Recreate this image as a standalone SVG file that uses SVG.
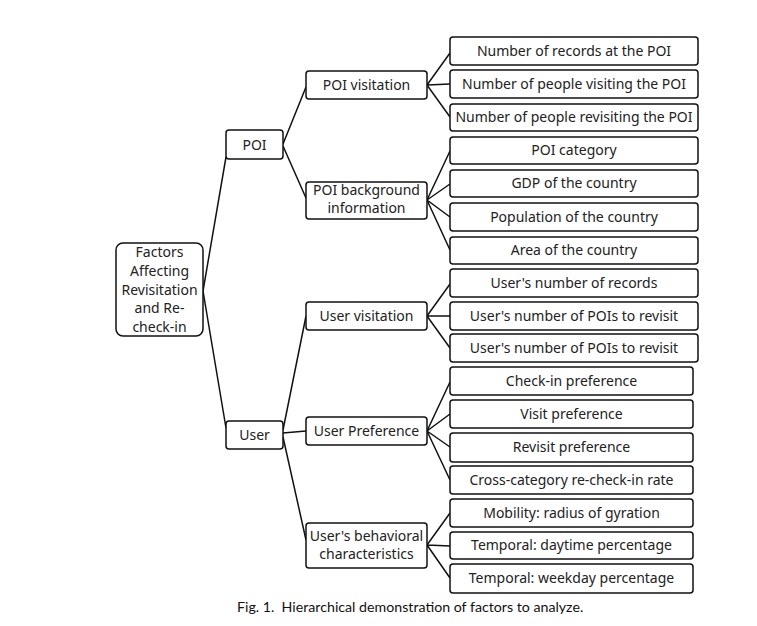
<svg xmlns="http://www.w3.org/2000/svg" width="757" height="626" viewBox="0 0 757 626">
<style>
.b{fill:#fff;stroke:#111;stroke-width:1.5}
.t{font-family:"Noto Sans","DejaVu Sans",sans-serif;font-size:14px;fill:#222;text-anchor:middle}
.c{fill:none;stroke:#111;stroke-width:1.5}
.cap{font-family:Lato,"Open Sans",sans-serif;font-size:14.2px;fill:#111;white-space:pre}
</style>
<rect width="757" height="626" fill="#fff"/>
<g id="connectors">
<path class="c" d="M203,291L226,157M203,291L226,428"/>
<path class="c" d="M283,144L306,87M283,146L306,198"/>
<path class="c" d="M283,430L306,316M283,433L306,431M283,437L306,540"/>
<path class="c" d="M427,85L450,53M427,85L450,84M427,85L450,117"/>
<path class="c" d="M427,200L450,151M427,200L450,184M427,200L450,217M427,200L450,250"/>
<path class="c" d="M427,316L450,284M427,316L450,316M427,316L450,348"/>
<path class="c" d="M427,431L450,382M427,431L450,414M427,431L450,447M427,431L450,480"/>
<path class="c" d="M427,545L450,513M427,545L450,546M427,545L450,578"/>
</g>
<g id="root"><rect class="b" x="116" y="243" width="87" height="93" rx="7"/>
<text class="t" x="159.5" y="257">Factors</text><text class="t" x="159.5" y="276">Affecting</text><text class="t" x="159.5" y="295">Revisitation</text><text class="t" x="159.5" y="313">and Re-</text><text class="t" x="159.5" y="332">check-in</text></g>
<g id="poi"><rect class="b" x="226" y="130" width="57" height="29" rx="3"/><text class="t" x="254.5" y="150">POI</text></g>
<g id="user"><rect class="b" x="226" y="421" width="57" height="28" rx="3"/><text class="t" x="254.5" y="440">User</text></g>
<g id="poi-visitation"><rect class="b" x="306" y="71" width="121" height="28" rx="3"/><text class="t" x="366.5" y="90">POI visitation</text></g>
<g id="poi-background"><rect class="b" x="306" y="182" width="121" height="37" rx="3"/><text class="t" x="366.5" y="194.5">POI background</text><text class="t" x="366.5" y="212.5">information</text></g>
<g id="user-visitation"><rect class="b" x="306" y="302" width="121" height="28" rx="3"/><text class="t" x="366.5" y="321">User visitation</text></g>
<g id="user-preference"><rect class="b" x="306" y="417" width="121" height="28" rx="3"/><text class="t" x="366.5" y="436">User Preference</text></g>
<g id="user-behavioral"><rect class="b" x="306" y="523" width="121" height="45" rx="3"/><text class="t" x="366.5" y="541">User's behavioral</text><text class="t" x="366.5" y="559">characteristics</text></g>
<g id="l1"><rect class="b" x="450" y="37" width="248" height="28" rx="3"/><text class="t" x="574" y="56">Number of records at the POI</text></g>
<g id="l2"><rect class="b" x="450" y="70" width="248" height="28" rx="3"/><text class="t" x="574" y="89">Number of people visiting the POI</text></g>
<g id="l3"><rect class="b" x="450" y="104" width="248" height="27" rx="3"/><text class="t" x="574" y="122">Number of people revisiting the POI</text></g>
<g id="l4"><rect class="b" x="450" y="137" width="248" height="27" rx="3"/><text class="t" x="574" y="155">POI category</text></g>
<g id="l5"><rect class="b" x="450" y="170" width="248" height="27" rx="3"/><text class="t" x="574" y="188">GDP of the country</text></g>
<g id="l6"><rect class="b" x="450" y="203" width="248" height="28" rx="3"/><text class="t" x="574" y="222">Population of the country</text></g>
<g id="l7"><rect class="b" x="450" y="237" width="248" height="27" rx="3"/><text class="t" x="574" y="255">Area of the country</text></g>
<g id="l8"><rect class="b" x="450" y="269" width="248" height="28" rx="3"/><text class="t" x="574" y="288">User's number of records</text></g>
<g id="l9"><rect class="b" x="450" y="302" width="248" height="28" rx="3"/><text class="t" x="574" y="321">User's number of POIs to revisit</text></g>
<g id="l10"><rect class="b" x="450" y="334" width="248" height="28" rx="3"/><text class="t" x="574" y="353">User's number of POIs to revisit</text></g>
<g id="l11"><rect class="b" x="450" y="367" width="243" height="28" rx="3"/><text class="t" x="571.5" y="386">Check-in preference</text></g>
<g id="l12"><rect class="b" x="450" y="400" width="243" height="28" rx="3"/><text class="t" x="571.5" y="419">Visit preference</text></g>
<g id="l13"><rect class="b" x="450" y="433" width="243" height="29" rx="3"/><text class="t" x="571.5" y="452">Revisit preference</text></g>
<g id="l14"><rect class="b" x="450" y="466" width="243" height="28" rx="3"/><text class="t" x="571.5" y="485">Cross-category re-check-in rate</text></g>
<g id="l15"><rect class="b" x="450" y="499" width="243" height="28" rx="3"/><text class="t" x="571.5" y="518">Mobility: radius of gyration</text></g>
<g id="l16"><rect class="b" x="450" y="532" width="243" height="27" rx="3"/><text class="t" x="571.5" y="550">Temporal: daytime percentage</text></g>
<g id="l17"><rect class="b" x="450" y="564" width="243" height="29" rx="3"/><text class="t" x="571.5" y="583">Temporal: weekday percentage</text></g>
<text class="cap" x="237" y="612">Fig. 1.  Hierarchical demonstration of factors to analyze.</text>
</svg>
